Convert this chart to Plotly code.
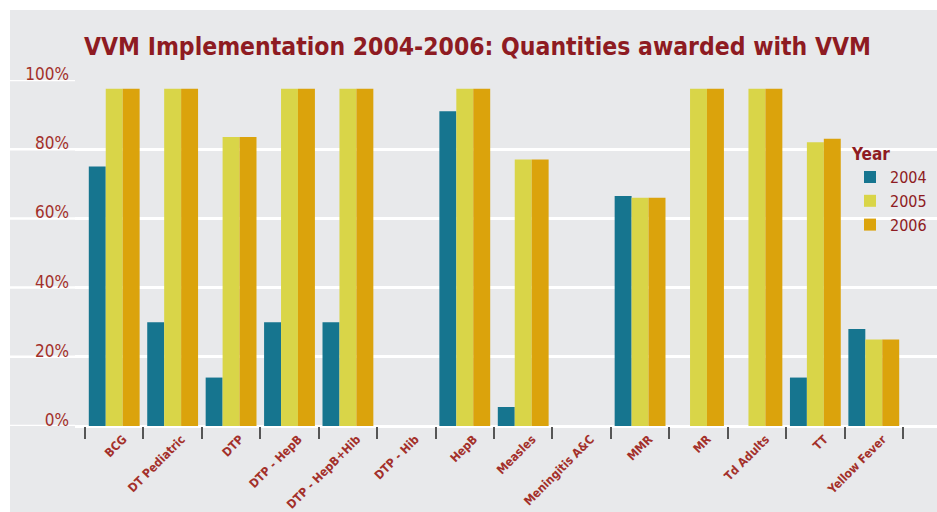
import plotly.graph_objects as go

categories = ["BCG", "DT Pediatric", "DTP", "DTP - HepB", "DTP - HepB+Hib", "DTP - Hib",
              "HepB", "Measles", "Meningitis A&C", "MMR", "MR", "Td Adults", "TT", "Yellow Fever"]
years = ["2004", "2005", "2006"]
v2004 = [75, 30, 14, 30, 30, None, 91, 5.5, None, 66.5, None, None, 14, 28]
v2005 = [97.5, 97.5, 83.5, 97.5, 97.5, None, 97.5, 77, None, 66, 97.5, 97.5, 82, 25]
v2006 = [97.5, 97.5, 83.5, 97.5, 97.5, None, 97.5, 77, None, 66, 97.5, 97.5, 83, 25]
y_ticks = [0, 20, 40, 60, 80, 100]
y_tick_labels = ["0%", "20%", "40%", "60%", "80%", "100%"]

colors = ["#16758f", "#d9d548", "#dba30c"]
red = "#8e1b22"
label_red = "#a3302a"
bg = "#e8e9eb"
font_fam = "Liberation Sans Narrow, DejaVu Sans Condensed, Roboto, sans-serif"

W, H = 937, 512
ml, mr, mt, mb = 75, 0, 80, 86
pw = W - ml - mr
ph = H - mt - mb
cat_w = (903 - 85) / len(categories)
x_lo = -0.5 - (85 - ml) / cat_w
x_hi = len(categories) - 0.5 + (W - mr - 903) / cat_w

fig = go.Figure()
for yr, vals, c in zip(years, [v2004, v2005, v2006], colors):
    fig.add_trace(go.Bar(name=yr, x=categories, y=vals, marker=dict(color=c, line=dict(width=0))))

shapes = [dict(type="rect", xref="paper", yref="paper",
               x0=(10 - ml) / pw, x1=1.0, y0=-mb / ph, y1=1 + (mt - 10) / ph,
               fillcolor=bg, line=dict(width=0), layer="below")]
for t in y_ticks:
    shapes.append(dict(type="line", xref="paper", yref="y", x0=(10 - ml) / pw, x1=0,
                       y0=t, y1=t, line=dict(color="white", width=2.5), layer="below"))

fig.update_layout(
    width=W, height=H,
    margin=dict(l=ml, r=mr, t=mt, b=mb),
    paper_bgcolor="white",
    plot_bgcolor=bg,
    barmode="group",
    bargap=0.13,
    bargroupgap=0.0,
    shapes=shapes,
    title=dict(text="<b>VVM Implementation 2004-2006: Quantities awarded with VVM</b>",
               x=(85 + 870) / 2 / W, xanchor="center", y=1 - 46 / H, yanchor="middle",
               font=dict(family=font_fam, size=24.5, color=red)),
    xaxis=dict(type="category", range=[x_lo, x_hi], tickson="boundaries",
               ticks="outside", ticklen=12, tickwidth=1.5, tickcolor="#555555",
               showgrid=False, showline=False, tickangle=-45,
               ticklabelshift=9, ticklabelstandoff=3,
               tickfont=dict(family=font_fam, size=12, color=label_red, weight="bold")),
    yaxis=dict(range=[0, 100], tickvals=y_ticks, ticktext=y_tick_labels,
               showgrid=True, gridcolor="white", gridwidth=2.5,
               zeroline=True, zerolinecolor="white", zerolinewidth=2.5,
               ticks="", ticklabelshift=-6, ticklabelstandoff=5,
               tickfont=dict(family=font_fam, size=17, color=label_red)),
    legend=dict(title=dict(text="<b>Year</b>", font=dict(size=17, color=red)),
                x=(850 - ml) / pw, xanchor="left", y=1 - (138 - mt) / ph, yanchor="top",
                bgcolor="rgba(0,0,0,0)", tracegroupgap=0,
                font=dict(family=font_fam, size=16, color=red)),
)

fig.write_html("out.html")
